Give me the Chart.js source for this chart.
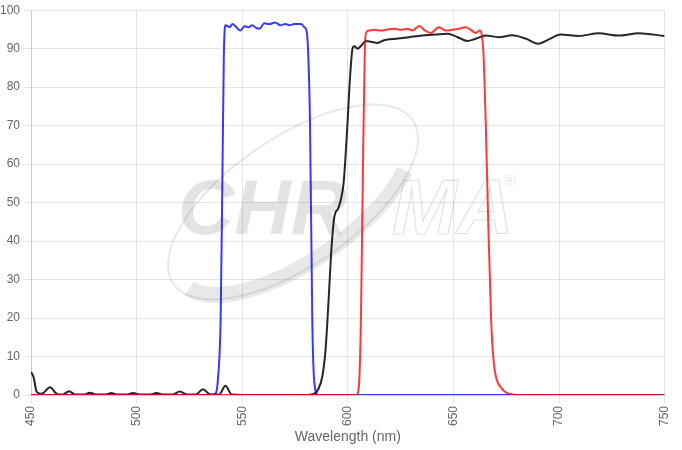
<!DOCTYPE html>
<html>
<head>
<meta charset="utf-8">
<script src="https://cdn.jsdelivr.net/npm/chart.js@4.4.1/dist/chart.umd.min.js"></script>
<style>
  html, body { margin: 0; padding: 0; background: #fff; }
  #wrap { width: 682px; height: 450px; }
</style>
</head>
<body>
<div id="wrap"><canvas id="chart"></canvas></div>
<script>
// x ticks (nm) and y ticks (%T)
const xTicks = [450, 500, 550, 600, 650, 700, 750];
const yTicks = [0, 10, 20, 30, 40, 50, 60, 70, 80, 90, 100];

// excitation filter (blue)
const blueWavelength = [450, 535, 537.5, 538.5, 539.8, 540.6, 541.3, 542.1, 544.0, 545.4, 547.2, 549.1, 551.1, 553.0, 554.7, 556.6, 558.2, 560.5, 562.9, 565.7, 568.0, 570.5, 572.4, 574.7, 577.9, 579.4, 580.5, 581.3, 582.1, 583.2, 584.2, 586, 750];
const blueTransmission = [0, 0, 0.5, 4, 20, 55, 88, 96.1, 95.6, 96.4, 95.6, 94.7, 95.8, 95.6, 96.1, 95.4, 95.2, 96.6, 96.4, 96.8, 96.1, 96.4, 96.1, 96.4, 96.4, 95.6, 94.6, 88, 71, 19, 3, 0, 0];

// emission filter (red)
const redWavelength = [450, 604, 605.2, 606.2, 607.2, 608, 608.6, 610.2, 612.5, 615.7, 618.8, 622.0, 625.1, 628.3, 630.6, 633.8, 636.6, 639.3, 643.2, 646.4, 649.5, 652.7, 655.8, 658.2, 660.6, 662.5, 663.4, 664.3, 665.3, 666.5, 667.9, 669, 670.5, 672.5, 675, 680, 750];
const redTransmission = [0, 0, 2, 19, 60, 88, 94.1, 94.7, 94.9, 94.7, 95.0, 95.2, 94.9, 95.2, 94.7, 95.9, 94.7, 94.1, 95.6, 94.7, 94.9, 95.2, 95.6, 94.9, 94.1, 94.7, 93.7, 88, 71, 45, 19, 9, 4, 2, 0.6, 0, 0];

// dichroic (black)
const blackWavelength = [450, 451.3, 452.7, 455, 459, 462.5, 465, 468, 471, 475, 478, 481, 485, 488, 491, 495, 498.3, 502, 506, 509.4, 513, 517, 520.4, 524, 528, 531.4, 535, 539, 542.1, 545, 550, 580, 584, 586, 588, 589.5, 590.9, 592.3, 593.6, 595.5, 596.8, 598, 599.1, 599.9, 601, 602.3, 603.1, 604.6, 606.2, 608.6, 611, 614.1, 617.2, 622.8, 629.1, 635.3, 641.7, 647.2, 650.3, 653.5, 656.6, 660.6, 665.3, 671.6, 677.9, 684.2, 690.1, 695.2, 700.7, 709.4, 718.8, 728.3, 737.7, 750];
const blackTransmission = [6.0, 4.5, 0.8, 0.3, 2.0, 0.2, 0.1, 1.0, 0.1, 0.1, 0.6, 0.1, 0.1, 0.5, 0.1, 0.1, 0.5, 0.1, 0.1, 0.5, 0.1, 0.1, 0.9, 0.1, 0.1, 1.5, 0.1, 0.1, 2.4, 0.1, 0, 0, 0.3, 1.5, 5, 12, 24.6, 38.4, 46.2, 48.5, 51, 55, 63.5, 71, 82, 90.2, 90.6, 90.0, 90.7, 92.0, 91.8, 91.5, 92.2, 92.6, 93.0, 93.4, 93.7, 93.9, 93.4, 92.6, 92.0, 92.6, 93.4, 93.0, 93.5, 92.6, 91.3, 92.4, 93.7, 93.3, 94.0, 93.4, 94.0, 93.3];

const toPoints = (xs, ys) => xs.map((x, i) => ({ x: x, y: ys[i] }));

// faint logo behind the plot
const watermark = {
  id: 'watermark',
  beforeDatasetsDraw(chart) {
    const ctx = chart.ctx;
    ctx.save();
    // swoosh
    ctx.translate(293, 202);
    ctx.rotate(-0.6);
    ctx.strokeStyle = 'rgba(0,0,0,0.09)';
    ctx.lineWidth = 2;
    ctx.beginPath();
    ctx.ellipse(0, 0, 145, 64, 0, 0, Math.PI * 2);
    ctx.stroke();
    ctx.lineWidth = 16;
    ctx.beginPath();
    ctx.ellipse(0, 4, 136, 56, 0, Math.PI * 0.2, Math.PI * 0.95);
    ctx.stroke();
    ctx.restore();

    ctx.save();
    ctx.font = 'italic bold 78px "Liberation Sans", Arial, sans-serif';
    ctx.textBaseline = 'alphabetic';
    ctx.fillStyle = 'rgba(0,0,0,0.11)';
    ctx.fillText('CHR', 178, 234);
    ctx.strokeStyle = 'rgba(0,0,0,0.12)';
    ctx.lineWidth = 1.2;
    ctx.strokeText('MA', 392, 234);
    ctx.font = '16px "Liberation Sans", Arial, sans-serif';
    ctx.fillText('\u00ae', 504, 186);
    ctx.restore();
  }
};

new Chart(document.getElementById('chart'), {
  type: 'line',
  data: {
    datasets: [
      {
        data: toPoints(redWavelength, redTransmission),
        borderColor: 'rgba(255,0,0,0.78)',
        borderWidth: 2,
        pointRadius: 0,
        cubicInterpolationMode: 'monotone'
      },
      {
        data: toPoints(blueWavelength, blueTransmission),
        borderColor: 'rgba(0,0,255,0.78)',
        borderWidth: 2,
        pointRadius: 0,
        cubicInterpolationMode: 'monotone'
      },
      {
        data: toPoints(blackWavelength, blackTransmission),
        borderColor: 'rgba(0,0,0,0.85)',
        borderWidth: 2,
        pointRadius: 0,
        cubicInterpolationMode: 'monotone'
      }
    ]
  },
  options: {
    responsive: true,
    maintainAspectRatio: false,
    animation: false,
    layout: { padding: { right: 8 } },
    plugins: {
      legend: { display: false },
      tooltip: { enabled: false }
    },
    scales: {
      x: {
        type: 'linear',
        min: 450,
        max: 750,
        afterBuildTicks: (axis) => { axis.ticks = xTicks.map(v => ({ value: v })); },
        afterFit: (axis) => { axis.height = 55; },
        ticks: { color: '#666', font: { size: 12 }, maxRotation: 90, minRotation: 90 },
        title: { display: true, text: 'Wavelength (nm)', color: '#666', font: { size: 14 } }
      },
      y: {
        min: 0,
        max: 100,
        afterBuildTicks: (axis) => { axis.ticks = yTicks.map(v => ({ value: v })); },
        afterFit: (axis) => { axis.width = 31; },
        ticks: { color: '#666', font: { size: 12 } }
      }
    }
  },
  plugins: [watermark]
});
</script>
</body>
</html>
